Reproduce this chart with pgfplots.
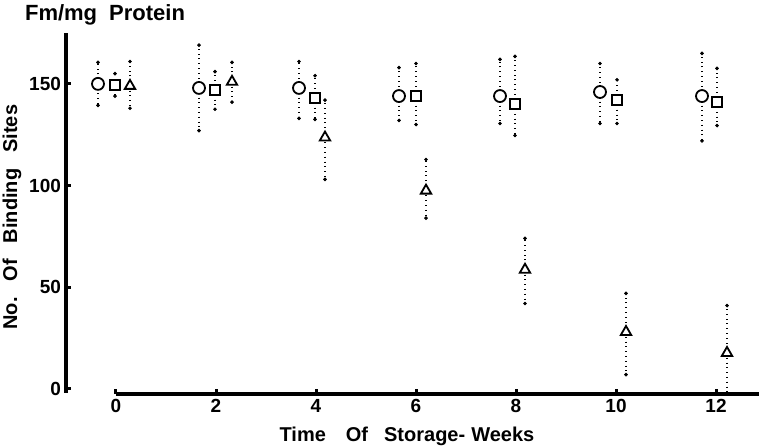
\documentclass[border=0pt]{standalone}
\usepackage{fontspec}
\setmainfont{Liberation Sans}
\usepackage{pgfplots}
\pgfplotsset{compat=1.18}
\usetikzlibrary{calc}

% x, y, error up, error down
\pgfplotstableread{
x      y      ep    em
-0.36  150.0  10.6  10.6
1.66   148.0  21.0  21.0
3.66   148.0  13.0  15.0
5.66   144.0  14.0  12.0
7.68   144.0  18.0  13.5
9.68   146.0  14.0  15.5
11.72  144.0  21.0  22.0
}\circles
\pgfplotstableread{
x      y      ep    em
-0.02  149.5  5.5   5.5
1.98   147.0  9.0   9.5
3.98   143.0  11.0  10.5
6.00   144.0  16.0  14.0
7.98   140.0  23.5  15.4
10.02  142.0  10.0  11.5
12.02  141.0  16.6  11.5
}\squares
\pgfplotstableread{
x      y      ep    em
0.28   149.0  12.0  11.0
2.32   151.0  9.6   10.0
4.18   123.6  18.4  20.6
6.20   97.5   15.3  13.5
8.18   58.6   15.4  16.6
10.20  28.0   19.0  21.0
12.22  17.7   23.3  19.7
}\triangles

\begin{document}
\begin{tikzpicture}
\begin{axis}[
    scale only axis,
    width=346.5pt, height=180.5pt,
    xmin=-1, xmax=12.86,
    ymin=-2.5, ymax=175,
    axis line style={draw=none},
    tick pos=left,
    xtick={0,2,...,12},
    ytick={0,50,100,150},
    ytick style={line width=1.5pt, black},
    xtick style={line width=1.5pt, black},
    y tick label style={font=\fontsize{9.5}{10}\selectfont\bfseries, xshift=1pt},
    x tick label style={font=\fontsize{9.5}{10}\selectfont\bfseries, yshift=1pt},
    /pgf/number format/assume math mode=true,
    every tick/.style={black},
    major tick length=2.5pt,
    clip=false,
    errbars/.style={draw=none, mark=none,
        error bars/y dir=both,
        error bars/y explicit,
        error bars/error bar style={draw=black, dotted, line width=0.6pt},
        error bars/error mark=*,
        error bars/error mark options={solid, mark size=0.7pt, fill=black}},
    sym/.style={only marks, mark options={draw=black, fill=white, line width=0.9pt}},
]
\draw[line width=2pt] (axis cs:-1,-2) -- (axis cs:-1,175);
\draw[line width=2pt] (axis cs:0,-2.5) -- (axis cs:12.86,-2.5);

% error bars first, so the open symbols cover them
\addplot[errbars] table[x=x, y=y, y error plus=ep, y error minus=em] {\circles};
\addplot[errbars] table[x=x, y=y, y error plus=ep, y error minus=em] {\squares};
\addplot[errbars] table[x=x, y=y, y error plus=ep, y error minus=em] {\triangles};

\addplot[sym, mark=*, mark size=3pt] table[x=x, y=y] {\circles};
\addplot[sym, mark=square*, mark size=2.6pt] table[x=x, y=y] {\squares};
\addplot[sym, mark=triangle*, mark size=3pt] table[x=x, y=y] {\triangles};

\node[anchor=west, font=\fontsize{11}{12}\selectfont\bfseries]
  at ($(rel axis cs:0,1)+(-24pt,9pt)$) {Fm/mg\hspace{6pt}Protein};
\node[rotate=90, font=\fontsize{10}{12}\selectfont\bfseries]
  at ($(rel axis cs:0,0.49)+(-27pt,0pt)$) {No.\hspace{8pt}Of\hspace{8pt}Binding\hspace{8pt}Sites};
\node[font=\fontsize{10}{12}\selectfont\bfseries]
  at ($(rel axis cs:0.492,0)+(0pt,-21pt)$) {Time\hspace{10pt}Of\hspace{8pt}Storage-\hspace{3pt}Weeks};

\coordinate (SW) at ($(rel axis cs:0,0)+(-33pt,-26.5pt)$);
\coordinate (NE) at ($(rel axis cs:1,1)+(0pt,16.5pt)$);
\end{axis}
\pgfresetboundingbox
\path (SW) rectangle (NE);
\end{tikzpicture}
\end{document}
